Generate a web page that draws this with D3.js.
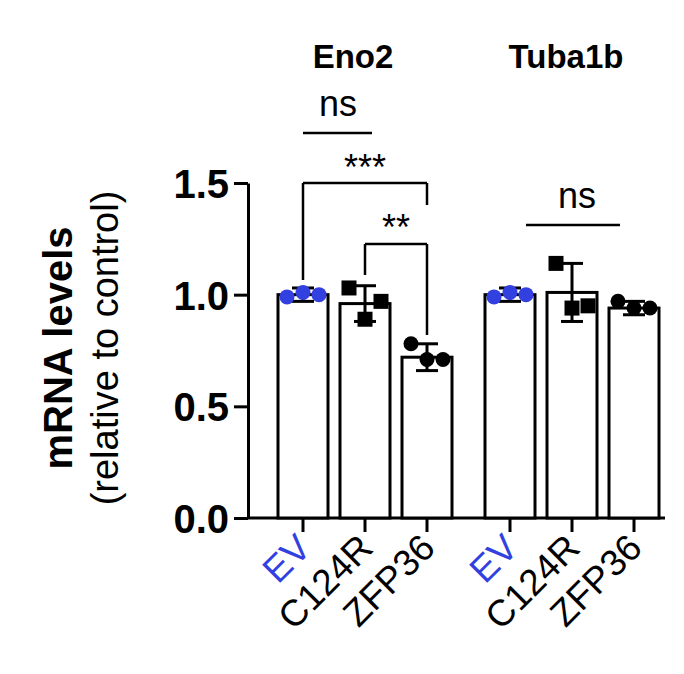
<!DOCTYPE html><html><head><script src="https://cdn.jsdelivr.net/npm/d3@7"></script>
<style>body{margin:0;background:#fff}</style></head><body><svg id="c" width="684" height="674"></svg>
<script>
const groups=["Eno2","Tuba1b"];
const conditions=["EV","C124R","ZFP36"];
const means=[[1.0,0.96,0.72],[1.0,1.01,0.94]];
const sds=[[0.03,0.08,0.06],[0.03,0.13,0.03]];
const points=[[[0.99,1.01,1.0],[1.03,0.89,0.97],[0.78,0.71,0.71]],[[0.99,1.01,1.0],[1.14,0.94,0.95],[0.97,0.94,0.94]]];
const yTicks=[0.0,0.5,1.0,1.5];
const svg=d3.select("#c"),F="Helvetica, Arial, 'Liberation Sans', sans-serif";
const y=d3.scaleLinear().domain([0,1.5]).range([518,183]);
const gx=d3.scaleBand().domain(groups).range([278,659]).paddingInner(33/207);
const cx=d3.scaleBand().domain(conditions).range([0,gx.bandwidth()]).paddingInner(12/62);
const ax=svg.append("g").attr("transform","translate(248,0)").call(d3.axisLeft(y).tickValues(yTicks).tickFormat(d3.format(".1f")).tickSize(14).tickSizeOuter(0));
ax.select(".domain").attr("stroke","#000").attr("stroke-width",3);
ax.selectAll(".tick line").attr("stroke-width",3);
ax.selectAll("text").attr("font-family",F).attr("font-size",40).attr("font-weight","bold").attr("dx",-2).attr("dy","0.36em");
svg.append("line").attr("x1",248).attr("x2",665).attr("y1",518).attr("y2",518).attr("stroke","#000").attr("stroke-width",3);
groups.forEach((g,gi)=>{
 const G=svg.append("g").attr("transform",`translate(${gx(g)},0)`);
 G.append("text").attr("x",gx.bandwidth()/2+(gi?-6:-12)).attr("y",68).attr("text-anchor","middle").attr("font-family",F).attr("font-size",33).attr("font-weight","bold").text(g);
 conditions.forEach((c,ci)=>{
  const x0=cx(c),w=cx.bandwidth(),m=x0+w/2,v=means[gi][ci],s=sds[gi][ci];
  G.append("rect").attr("x",x0).attr("y",y(v)).attr("width",w).attr("height",518-y(v)).attr("fill","#fff").attr("stroke","#000").attr("stroke-width",3);
  G.append("line").attr("x1",m).attr("x2",m).attr("y1",y(v+s)).attr("y2",y(v-s)).attr("stroke","#000").attr("stroke-width",3);
  [v+s,v-s].forEach(e=>G.append("line").attr("x1",m-11).attr("x2",m+11).attr("y1",y(e)).attr("y2",y(e)).attr("stroke","#000").attr("stroke-width",3));
  G.append("line").attr("x1",m).attr("x2",m).attr("y1",518).attr("y2",532).attr("stroke","#000").attr("stroke-width",3);
  const offs=[-16,0,16];
  points[gi][ci].forEach((p,pi)=>{
   const px=m+offs[pi];
   if(ci===0)G.append("circle").attr("cx",px).attr("cy",y(p)).attr("r",7.5).attr("fill","#3340e0");
   else if(ci===1)G.append("rect").attr("x",px-7.5).attr("y",y(p)-7.5).attr("width",15).attr("height",15).attr("fill","#000");
   else G.append("circle").attr("cx",px).attr("cy",y(p)).attr("r",7.5).attr("fill","#000");
  });
  G.append("text").attr("transform",`translate(${m+10},${550}) rotate(-45)`).attr("text-anchor","end").attr("font-family",F).attr("font-size",37).attr("fill",ci===0?"#3340e0":"#000").text(c);
 });
});
const mid=(g,c)=>gx(g)+cx(c)+cx.bandwidth()/2;
const ln=(x1,y1,x2,y2)=>svg.append("line").attr("x1",x1).attr("y1",y1).attr("x2",x2).attr("y2",y2).attr("stroke","#000").attr("stroke-width",2.5);
const tx=(x,yy,t)=>svg.append("text").attr("x",x).attr("y",yy).attr("text-anchor","middle").attr("font-family",F).attr("font-size",36).text(t);
ln(303,133,372,133);tx(338,116,"ns");
const a=mid("Eno2","EV"),b=mid("Eno2","C124R"),c=mid("Eno2","ZFP36");
ln(a,183,c,183);ln(a,183,a,280);ln(c,183,c,205);tx((a+c)/2,180,"***");
ln(b,244,c,244);ln(b,244,b,275);ln(c,244,c,335);tx((b+c)/2,240,"**");
ln(526,225,620,225);tx(577,208,"ns");
svg.append("text").attr("transform","translate(72,348) rotate(-90)").attr("text-anchor","middle").attr("font-family",F).attr("font-size",40).attr("font-weight","bold").text("mRNA levels");
svg.append("text").attr("transform","translate(118,348) rotate(-90)").attr("text-anchor","middle").attr("font-family",F).attr("font-size",38).text("(relative to control)");
</script></body></html>
